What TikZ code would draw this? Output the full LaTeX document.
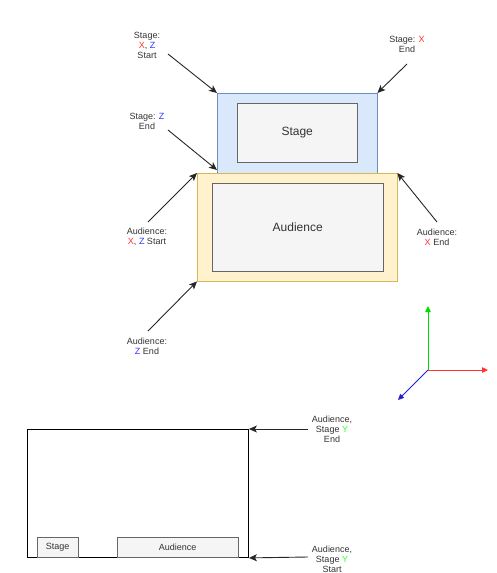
\documentclass[tikz,border=0pt]{standalone}
\usepackage{fontspec}
\setmainfont{Liberation Sans}
\usetikzlibrary{arrows.meta}
\definecolor{xred}{HTML}{FF3333}
\definecolor{zblue}{HTML}{3333FF}
\definecolor{ygreen}{HTML}{33FF33}
\definecolor{axred}{HTML}{FF3333}
\definecolor{axgreen}{HTML}{00DD00}
\definecolor{axblue}{HTML}{2222CC}
\definecolor{bluefill}{HTML}{DAE8FC}
\definecolor{bluestroke}{HTML}{6C8EBF}
\definecolor{yelfill}{HTML}{FFF2CC}
\definecolor{yelstroke}{HTML}{D6B656}
\definecolor{grayfill}{HTML}{F5F5F5}
\definecolor{graystroke}{HTML}{666666}
\definecolor{txt}{HTML}{333333}
\tikzset{
  box/.style={draw, inner sep=0pt, anchor=north west},
  bluebox/.style={box, fill=bluefill, draw=bluestroke},
  yelbox/.style={box, fill=yelfill, draw=yelstroke},
  graybox/.style={box, fill=grayfill, draw=graystroke, text=txt, font=\fontsize{12}{14}\selectfont},
  smallbox/.style={box, fill=grayfill, draw=graystroke, text=txt, font=\fontsize{9}{10}\selectfont},
  lbl/.style={align=center, inner sep=0pt, text=txt, font=\fontsize{9}{10}\selectfont},
  arr/.style={draw=black!85, line width=0.9pt, -{Stealth[length=8pt,width=7pt,inset=2pt]}},
  axis/.style={line width=0.8pt, -{Triangle[length=6pt,width=5.5pt]}}
}
\begin{document}
\begin{tikzpicture}[x=1pt,y=-1pt]
\useasboundingbox (0,0) rectangle (496,573);
% top diagram
\node[bluebox, minimum width=160pt, minimum height=80pt] (stageout) at (217,93) {};
\node[graybox, minimum width=120pt, minimum height=59pt] (stagein) at (237,103) {Stage};
\node[yelbox, minimum width=200pt, minimum height=108pt] (audout) at (197,173) {};
\node[graybox, minimum width=171pt, minimum height=88pt] (audin) at (212,183) {Audience};

% labels
\node[lbl] (l1) at (147,45) {Stage:\\{\color{xred}X}, {\color{zblue}Z}\\Start};
\node[lbl] (l2) at (147,121) {Stage: {\color{zblue}Z}\\End};
\node[lbl] (l3) at (407,44) {Stage: {\color{xred}X}\\End};
\node[lbl] (l4) at (147,237) {Audience:\\{\color{xred}X}, {\color{zblue}Z} Start};
\node[lbl] (l5) at (147,346) {Audience:\\{\color{zblue}Z} End};
\node[lbl] (l6) at (437,237) {Audience:\\{\color{xred}X} End};

\coordinate (s1) at (168,54);
\coordinate (s2) at (168,130);
\coordinate (e2) at (217,170);
\coordinate (s3) at (407,64);
\coordinate (s4) at (148,222);
\coordinate (s5) at (148,331);
\coordinate (s6) at (437,222);

\draw[arr] (s1) -- (stageout.north west);
\draw[arr] (s2) -- (e2);
\draw[arr] (s3) -- (stageout.north east);
\draw[arr] (s4) -- (audout.north west);
\draw[arr] (s5) -- (audout.south west);
\draw[arr] (s6) -- (audout.north east);

% axes
\coordinate (o) at (428,370);
\coordinate (ay) at (428,306);
\coordinate (ax) at (488,370);
\coordinate (az) at (398,400);
\draw[axis, axgreen] (o) -- (ay);
\draw[axis, axred] (o) -- (ax);
\draw[axis, axblue] (o) -- (az);

% bottom diagram
\node[box, draw=black, line width=0.9pt, minimum width=221pt, minimum height=128pt] (room) at (27,429) {};
\node[smallbox, minimum width=41pt, minimum height=20pt] (bstage) at (37,537) {Stage};
\node[smallbox, minimum width=121pt, minimum height=20pt] (baud) at (117,537) {Audience};

\node[lbl] (l7) at (332,429) {Audience,\\Stage {\color{ygreen}Y}\\End};
\node[lbl] (l8) at (332,559) {Audience,\\Stage {\color{ygreen}Y}\\Start};
\coordinate (s7) at (308,429);
\coordinate (s8) at (308,557);
\draw[arr] (s7) -- (room.north east);
\draw[arr] (s8) -- (room.south east);
\end{tikzpicture}
\end{document}
